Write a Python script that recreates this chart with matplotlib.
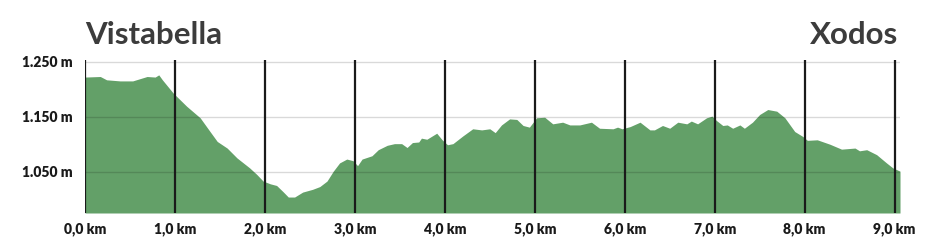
import matplotlib.pyplot as plt

# perfil de elevación (km, m)
dist_km = [0.0, 0.17, 0.24, 0.39, 0.53, 0.69, 0.78, 0.82, 0.86, 0.98, 1.13, 1.28,
           1.39, 1.47, 1.58, 1.69, 1.83, 1.91, 1.98, 2.06, 2.13, 2.20, 2.26, 2.33,
           2.42, 2.53, 2.61, 2.69, 2.76, 2.83, 2.91, 2.98, 3.03, 3.08, 3.19, 3.26,
           3.36, 3.44, 3.52, 3.58, 3.64, 3.71, 3.74, 3.80, 3.91, 3.97, 4.03, 4.09,
           4.20, 4.31, 4.41, 4.50, 4.56, 4.63, 4.72, 4.80, 4.87, 4.94, 5.02, 5.11,
           5.20, 5.31, 5.39, 5.50, 5.63, 5.72, 5.87, 5.92, 5.97, 6.06, 6.17, 6.28,
           6.33, 6.42, 6.50, 6.59, 6.69, 6.74, 6.81, 6.91, 6.97, 7.02, 7.09, 7.14,
           7.20, 7.28, 7.33, 7.42, 7.50, 7.59, 7.69, 7.78, 7.89, 7.98, 8.03, 8.14,
           8.28, 8.41, 8.56, 8.61, 8.69, 8.80, 8.91, 8.98, 9.06]
elev_m = [1222, 1223, 1217, 1215, 1215, 1223, 1222, 1226, 1217, 1193, 1169, 1148,
          1123, 1105, 1093, 1075, 1057, 1045, 1033, 1028, 1025, 1014, 1004, 1004,
          1013, 1018, 1023, 1033, 1051, 1066, 1073, 1070, 1061, 1073, 1079, 1090,
          1098, 1101, 1101, 1094, 1103, 1104, 1111, 1109, 1120, 1108, 1099, 1101,
          1115, 1128, 1126, 1128, 1121, 1135, 1146, 1145, 1134, 1131, 1148, 1149,
          1137, 1140, 1135, 1135, 1140, 1129, 1128, 1131, 1128, 1132, 1140, 1126,
          1126, 1134, 1129, 1140, 1137, 1142, 1137, 1148, 1151, 1143, 1134, 1135,
          1129, 1135, 1129, 1140, 1154, 1163, 1160, 1148, 1123, 1114, 1107, 1108,
          1100, 1091, 1093, 1088, 1090, 1081, 1066, 1057, 1051]

km_ticks = [0, 1, 2, 3, 4, 5, 6, 7, 8, 9]
km_labels = ["0,0 km", "1,0 km", "2,0 km", "3,0 km", "4,0 km",
             "5,0 km", "6,0 km", "7,0 km", "8,0 km", "9,0 km"]
m_ticks = [1050, 1150, 1250]
m_labels = ["1.050 m", "1.150 m", "1.250 m"]

plt.rcParams['font.family'] = ['Lato', 'DejaVu Sans']

fig = plt.figure(figsize=(9.3, 2.5), dpi=100)
ax = fig.add_axes([85 / 930, 37 / 250, 815 / 930, 153 / 250])

ax.fill_between(dist_km, 975, elev_m, color='#63a068', lw=0, zorder=1)

# lineas horizontales sobre el relleno
for m in m_ticks:
    ax.axhline(m, color='black', alpha=0.15, lw=1, zorder=2)
# lineas verticales de km
for k in km_ticks:
    ax.axvline(k, color='#1a1a1a', lw=1.6, zorder=3)

ax.set_xlim(0, 9.06)
ax.set_ylim(975, 1253)
ax.set_xticks(km_ticks)
ax.set_xticklabels(km_labels, fontsize=10, fontweight='heavy', color='#1a1a1a')
ax.set_yticks(m_ticks)
ax.set_yticklabels(m_labels, fontsize=10, fontweight='heavy', color='#1a1a1a')
ax.tick_params(length=0, pad=7)
ax.tick_params(axis='y', pad=9)
for s in ax.spines.values():
    s.set_visible(False)

fig.text(85 / 930, 1 - 35 / 250, "Vistabella", fontsize=22.5, fontweight='bold',
         color='#3c3c3c', ha='left', va='center')
fig.text(898 / 930, 1 - 35 / 250, "Xodos", fontsize=22.5, fontweight='bold',
         color='#3c3c3c', ha='right', va='center')

fig.savefig("out.png", dpi=100)
